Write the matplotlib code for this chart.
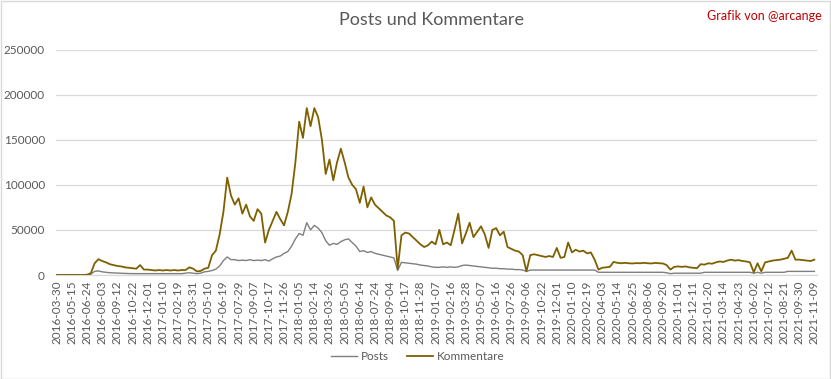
import numpy as np
import matplotlib
matplotlib.use("Agg")
import matplotlib.pyplot as plt
from matplotlib.patches import Rectangle

plt.rcParams['font.family'] = ['Lato', 'DejaVu Sans']

# Sampled every 10 categories (days), values in thousands
step = 10
kommentare_k = [
    0, 0, 0, 0, 0, 0, 0, 0, 0.3, 2,            # 0-90
    13, 17.5, 15.5, 14, 12, 11, 10, 9.5, 8.5, 8,  # 100-190
    7.5, 7, 11, 6, 6, 5.5, 5, 5.5, 5, 5.5,        # 200-290
    5, 5.5, 5, 5.5, 5.5, 8.5, 7, 4, 4.5, 7,       # 300-390
    8, 22, 27, 45, 70, 108, 88, 78, 85, 68,       # 400-490
    78, 65, 60, 73, 68, 36, 50, 60, 70, 62,       # 500-590
    55, 70, 90, 125, 170, 152, 185, 165, 185, 175,  # 600-690
    150, 112, 128, 105, 125, 140, 125, 108, 100, 95,  # 700-790
    80, 98, 75, 86, 78, 74, 70, 66, 64, 60,       # 800-890
    7, 44, 47, 46, 42, 38, 34, 31, 33, 37,        # 900-990
    34, 50, 34, 36, 33, 50, 68, 35, 46, 58,       # 1000-1090
    42, 48, 54, 45, 30, 50, 52, 44, 48, 31,       # 1100-1190
    29, 27, 26, 22, 4, 22, 23, 22, 21, 20,        # 1200-1290
    21, 20, 30, 19, 20, 36, 25, 28, 26, 27,       # 1300-1390
    24, 25, 17, 6, 8, 8.5, 9, 14.5, 13.5, 13,     # 1400-1490
    13.5, 13, 12.8, 13.2, 13, 13.5, 13, 12.8, 13.4, 13,  # 1500-1590
    12.8, 11, 6, 9, 9.5, 9, 9.5, 8.5, 8, 7.5,     # 1600-1690
    12, 11.5, 13, 12.5, 14, 15, 14.5, 16, 17, 16,  # 1700-1790
    16.5, 15.5, 15, 14, 3, 13, 4, 14, 15, 16,     # 1800-1890
    16.5, 17, 18, 19, 27, 17, 17, 16.5, 16, 15.5,  # 1900-1990
    17,                                           # 2000
]
posts_k = [
    0, 0, 0, 0, 0, 0, 0, 0, 0, 1,                 # 0-90
    4, 4.5, 3.5, 3, 2.5, 2.3, 2, 2, 1.8, 1.6,     # 100-190
    1.5, 1.5, 1.5, 1.5, 1.5, 1.5, 1.5, 1.5, 1.5, 1.5,  # 200-290
    1.5, 1.5, 1.5, 1.5, 2, 2.5, 2, 1.5, 2, 3.5,   # 300-390
    4, 5, 6.5, 10, 16, 20, 17, 17, 16, 16.5,      # 400-490
    16, 17, 16, 16.5, 16, 17, 15.5, 18, 20, 21,   # 500-590
    24, 26, 32, 40, 46, 44, 58, 50, 55, 52,       # 600-690
    47, 38, 33, 35, 34, 37, 39, 40, 36, 32,       # 700-790
    26, 27, 25, 26, 24, 23, 22, 21, 20, 19,       # 800-890
    5, 14, 13.5, 13, 12.5, 12, 11, 10.5, 10, 9,   # 900-990
    8.5, 8.5, 9, 8.5, 9, 8.5, 9, 10.5, 11, 10.5,  # 1000-1090
    10, 9.5, 9, 8.5, 8, 7.5, 7.5, 7, 7, 6.5,      # 1100-1190
    6.5, 6, 6, 5.5, 4, 5.5, 5.5, 5.5, 5.5, 5.5,   # 1200-1290
    5.5, 5.5, 5.5, 5.5, 5.5, 5.5, 5.5, 5.5, 5.5, 5.5,  # 1300-1390
    5.5, 5.5, 5.5, 3, 3, 3, 3, 3, 3, 3,           # 1400-1490
    3, 3, 3, 3, 3, 3, 3, 3, 3, 3,                 # 1500-1590
    3, 2.5, 1.5, 2, 2, 2, 2, 2, 2, 2,             # 1600-1690
    2, 3, 3, 3, 3, 3, 3, 3, 3, 3,                 # 1700-1790
    3, 3, 3, 3, 2, 3, 2, 3, 3, 3,                 # 1800-1890
    3, 3, 3, 4, 4, 4, 4, 4, 4, 4,                 # 1900-1990
    4,                                            # 2000
]
tick_labels = [
    "2016-03-30", "2016-05-15", "2016-06-24", "2016-08-03", "2016-09-12",
    "2016-10-22", "2016-12-01", "2017-01-10", "2017-02-19", "2017-03-31",
    "2017-05-10", "2017-06-19", "2017-07-29", "2017-09-07", "2017-10-17",
    "2017-11-26", "2018-01-05", "2018-02-14", "2018-03-26", "2018-05-05",
    "2018-06-14", "2018-07-24", "2018-09-04", "2018-10-17", "2018-11-28",
    "2019-01-07", "2019-02-16", "2019-03-28", "2019-05-07", "2019-06-16",
    "2019-07-26", "2019-09-06", "2019-10-22", "2019-12-01", "2020-01-10",
    "2020-02-19", "2020-04-03", "2020-05-14", "2020-06-25", "2020-08-06",
    "2020-09-20", "2020-11-01", "2020-12-11", "2021-01-20", "2021-03-14",
    "2021-04-23", "2021-06-02", "2021-07-12", "2021-08-21", "2021-09-30",
    "2021-11-09",
]
tick_every = 40
y_ticks = [0, 50000, 100000, 150000, 200000, 250000]

x = np.arange(len(kommentare_k)) * step
kom = np.array(kommentare_k) * 1000
pst = np.array(posts_k) * 1000

fig = plt.figure(figsize=(8.31, 3.79), dpi=100)
ax = fig.add_axes([56/831, (379-275)/379, (817-56)/831, (275-49.5)/379])

ax.plot(x, pst, color="#7F7F7F", lw=1.0, label="Posts", zorder=3)
ax.plot(x, kom, color="#7F6000", lw=1.3, label="Kommentare", zorder=4)

ax.set_ylim(0, 250000)
ax.set_yticks(y_ticks)
ax.set_yticklabels([str(v) for v in y_ticks])
ax.set_xlim(-2, 2007)
ax.set_xticks(np.arange(len(tick_labels)) * tick_every)
ax.set_xticklabels(tick_labels, rotation=90)

ax.grid(axis='y', color="#D9D9D9", lw=0.9)
ax.set_axisbelow(True)
for s in ['left', 'right', 'top']:
    ax.spines[s].set_visible(False)
ax.spines['bottom'].set_color("#D9D9D9")
ax.spines['bottom'].set_linewidth(0.9)
ax.tick_params(axis='y', length=0, labelsize=8.5, labelcolor="#595959", pad=8)
ax.tick_params(axis='x', length=0, labelsize=8.5, labelcolor="#595959", pad=4)

fig.text(432/831, 1 - 20/379, "Posts und Kommentare", ha='center', va='center',
         fontsize=13, color="#595959")
fig.text(822/831, 1 - 16/379, "Grafik von @arcange", ha='right', va='center',
         fontsize=9, color="#C00000")

leg = fig.legend(loc='center', bbox_to_anchor=(418/831, 1 - 357/379), ncol=2,
                 frameon=False, fontsize=8.5, handlelength=2.2, columnspacing=1.5,
                 handletextpad=0.35)
for t in leg.get_texts():
    t.set_color("#595959")

fig.patches.append(Rectangle((0.5/831, 0.5/379), 1 - 1.5/831, 1 - 1.5/379,
                             transform=fig.transFigure, fill=False,
                             edgecolor="#D9D9D9", lw=1.0))

fig.savefig("out.png", dpi=100)
